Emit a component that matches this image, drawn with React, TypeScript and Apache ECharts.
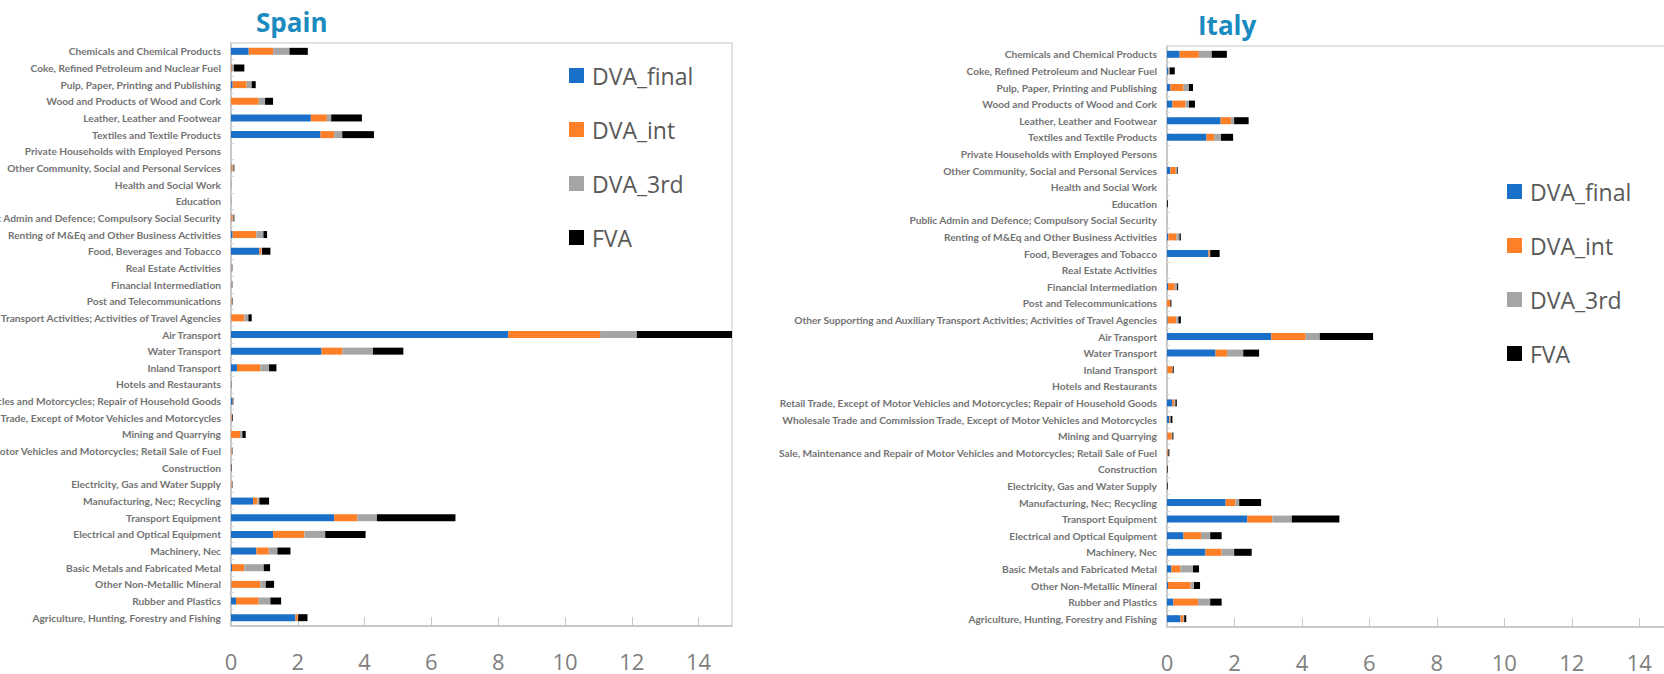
import React, { useEffect, useRef } from "react";
import * as echarts from "echarts";

const categories = [
  "Chemicals and Chemical Products",
  "Coke, Refined Petroleum and Nuclear Fuel",
  "Pulp, Paper, Printing and Publishing",
  "Wood and Products of Wood and Cork",
  "Leather, Leather and Footwear",
  "Textiles and Textile Products",
  "Private Households with Employed Persons",
  "Other Community, Social and Personal Services",
  "Health and Social Work",
  "Education",
  "Public Admin and Defence; Compulsory Social Security",
  "Renting of M&Eq and Other Business Activities",
  "Food, Beverages and Tobacco",
  "Real Estate Activities",
  "Financial Intermediation",
  "Post and Telecommunications",
  "Other Supporting and Auxiliary Transport Activities; Activities of Travel Agencies",
  "Air Transport",
  "Water Transport",
  "Inland Transport",
  "Hotels and Restaurants",
  "Retail Trade, Except of Motor Vehicles and Motorcycles; Repair of Household Goods",
  "Wholesale Trade and Commission Trade, Except of Motor Vehicles and Motorcycles",
  "Mining and Quarrying",
  "Sale, Maintenance and Repair of Motor Vehicles and Motorcycles; Retail Sale of Fuel",
  "Construction",
  "Electricity, Gas and Water Supply",
  "Manufacturing, Nec; Recycling",
  "Transport Equipment",
  "Electrical and Optical Equipment",
  "Machinery, Nec",
  "Basic Metals and Fabricated Metal",
  "Other Non-Metallic Mineral",
  "Rubber and Plastics",
  "Agriculture, Hunting, Forestry and Fishing",
];

const seriesNames = ["DVA_final", "DVA_int", "DVA_3rd", "FVA"];
const xTicks = [0, 2, 4, 6, 8, 10, 12, 14];

const spainDvaFinal = [0.53, 0.01, 0.05, 0.0, 2.39, 2.68, 0, 0.01, 0.005, 0.005, 0.01, 0.05, 0.85, 0.01, 0.01, 0.0, 0.01, 8.3, 2.71, 0.18, 0.005, 0.03, 0.0, 0.0, 0.0, 0.01, 0.0, 0.66, 3.09, 1.26, 0.76, 0.03, 0.01, 0.15, 1.93];
const spainDvaInt = [0.73, 0.02, 0.42, 0.83, 0.48, 0.41, 0, 0.04, 0.0, 0.0, 0.04, 0.71, 0.06, 0.01, 0.01, 0.02, 0.39, 2.75, 0.63, 0.7, 0.0, 0.01, 0.02, 0.27, 0.02, 0.01, 0.02, 0.13, 0.69, 0.94, 0.37, 0.37, 0.87, 0.68, 0.07];
const spainDva3rd = [0.49, 0.06, 0.15, 0.19, 0.13, 0.24, 0, 0.03, 0.005, 0.005, 0.03, 0.21, 0.02, 0.01, 0.01, 0.03, 0.12, 1.1, 0.91, 0.26, 0.0, 0.01, 0.02, 0.07, 0.02, 0.0, 0.02, 0.06, 0.59, 0.62, 0.26, 0.58, 0.16, 0.35, 0.01];
const spainFva = [0.55, 0.31, 0.12, 0.24, 0.92, 0.95, 0, 0.02, 0.0, 0.0, 0.02, 0.11, 0.25, 0.01, 0.01, 0.01, 0.1, 2.85, 0.91, 0.22, 0.005, 0.02, 0.02, 0.1, 0.01, 0.01, 0.01, 0.29, 2.35, 1.21, 0.39, 0.19, 0.25, 0.32, 0.28];

const italyDvaFinal = [0.375, 0.04, 0.1, 0.16, 1.59, 1.17, 0, 0.1, 0.003, 0.005, 0.003, 0.04, 1.23, 0.003, 0.03, 0.0, 0.02, 3.09, 1.44, 0.01, 0, 0.16, 0.07, 0.01, 0.01, 0.0, 0.005, 1.74, 2.38, 0.49, 1.14, 0.13, 0.03, 0.19, 0.4];
const italyDvaInt = [0.57, 0.01, 0.39, 0.39, 0.31, 0.23, 0, 0.16, 0, 0, 0, 0.24, 0.04, 0, 0.2, 0.1, 0.26, 1.02, 0.34, 0.15, 0, 0.06, 0.02, 0.13, 0.03, 0.01, 0, 0.29, 0.74, 0.52, 0.48, 0.27, 0.67, 0.73, 0.08];
const italyDva3rd = [0.38, 0.03, 0.16, 0.1, 0.09, 0.2, 0, 0.04, 0, 0, 0, 0.09, 0.01, 0, 0.07, 0, 0.06, 0.42, 0.48, 0.01, 0, 0.03, 0.02, 0.02, 0.0, 0, 0, 0.11, 0.58, 0.27, 0.37, 0.37, 0.1, 0.36, 0.03];
const italyFva = [0.45, 0.15, 0.12, 0.18, 0.43, 0.36, 0, 0.02, 0, 0.025, 0, 0.04, 0.28, 0, 0.03, 0.03, 0.07, 1.58, 0.47, 0.03, 0, 0.04, 0.05, 0.03, 0.03, 0.02, 0.02, 0.65, 1.41, 0.34, 0.52, 0.18, 0.18, 0.34, 0.06];

const colors = ["#1a70c8", "#ff7f27", "#a5a5a5", "#000000"];

export default function App() {
  const ref = useRef<HTMLDivElement>(null);
  useEffect(() => {
    if (!ref.current) return;
    const chart = echarts.init(ref.current, null, { renderer: "svg" });
    const grids = [
      { left: 231, top: 43, width: 501, height: 583 },
      { left: 1167, top: 46, width: 506, height: 581 },
    ];
    const xAxis = grids.map((_, i) => ({
      type: "value",
      gridIndex: i,
      min: 0,
      max: 15,
      interval: 2,
      axisLine: { show: true, lineStyle: { color: "#bfbfbf", width: 1.5 } },
      axisTick: { show: true, inside: true, length: 9, lineStyle: { color: "#c8c8c8" } },
      splitLine: { show: false },
      axisLabel: {
        showMaxLabel: false,
        margin: 24,
        fontSize: 22,
        color: "#808080",
        fontFamily: "Open Sans",
        formatter: (v: number) => (xTicks.includes(v) ? String(v) : ""),
      },
    }));
    const yAxis = grids.map((_, i) => ({
      type: "category",
      gridIndex: i,
      data: categories,
      inverse: true,
      axisLine: { show: true, lineStyle: { color: "#bfbfbf", width: 1.5 } },
      axisTick: { show: true, inside: true, length: 3, lineStyle: { color: "#d9d9d9" } },
      axisLabel: {
        interval: 0,
        margin: 10,
        fontSize: 10.2,
        fontWeight: "bold",
        fontFamily: "Lato",
        color: "#737373",
      },
    }));
    const spainData = [spainDvaFinal, spainDvaInt, spainDva3rd, spainFva];
    const italyData = [italyDvaFinal, italyDvaInt, italyDva3rd, italyFva];
    const series: any[] = [];
    [spainData, italyData].forEach((set, gi) => {
      set.forEach((arr, si) => {
        series.push({
          type: "bar",
          name: seriesNames[si],
          xAxisIndex: gi,
          yAxisIndex: gi,
          stack: gi === 0 ? "spain" : "italy",
          barWidth: 7,
          itemStyle: { color: colors[si] },
          data: arr,
        });
      });
    });
    const legendBase = {
      orient: "vertical",
      icon: "rect",
      itemWidth: 15,
      itemHeight: 15,
      itemGap: 31,
      data: seriesNames,
      textStyle: { fontSize: 23, color: "#595959", fontFamily: "Open Sans", padding: [0, 0, 0, 3] },
      selectedMode: false,
    };
    chart.setOption({
      animation: false,
      color: colors,
      title: [
        { text: "Spain", left: 251, top: 4, textStyle: { fontSize: 26, fontWeight: "bold", color: "#1b8bbf", fontFamily: "Open Sans" } },
        { text: "Italy", left: 1193, top: 7, textStyle: { fontSize: 26, fontWeight: "bold", color: "#1b8bbf", fontFamily: "Open Sans" } },
      ],
      legend: [
        { ...legendBase, left: 564, top: 59 },
        { ...legendBase, left: 1502, top: 175 },
      ],
      grid: grids.map((g) => ({
        ...g,
        containLabel: false,
        outerBoundsMode: "none",
        show: true,
        borderColor: "#d9d9d9",
        borderWidth: 1.5,
        backgroundColor: "transparent",
      })),
      xAxis,
      yAxis,
      series,
    });
    return () => chart.dispose();
  }, []);
  return <div ref={ref} style={{ position: "absolute", left: 0, top: 0, width: 1664, height: 674 }} />;
}
